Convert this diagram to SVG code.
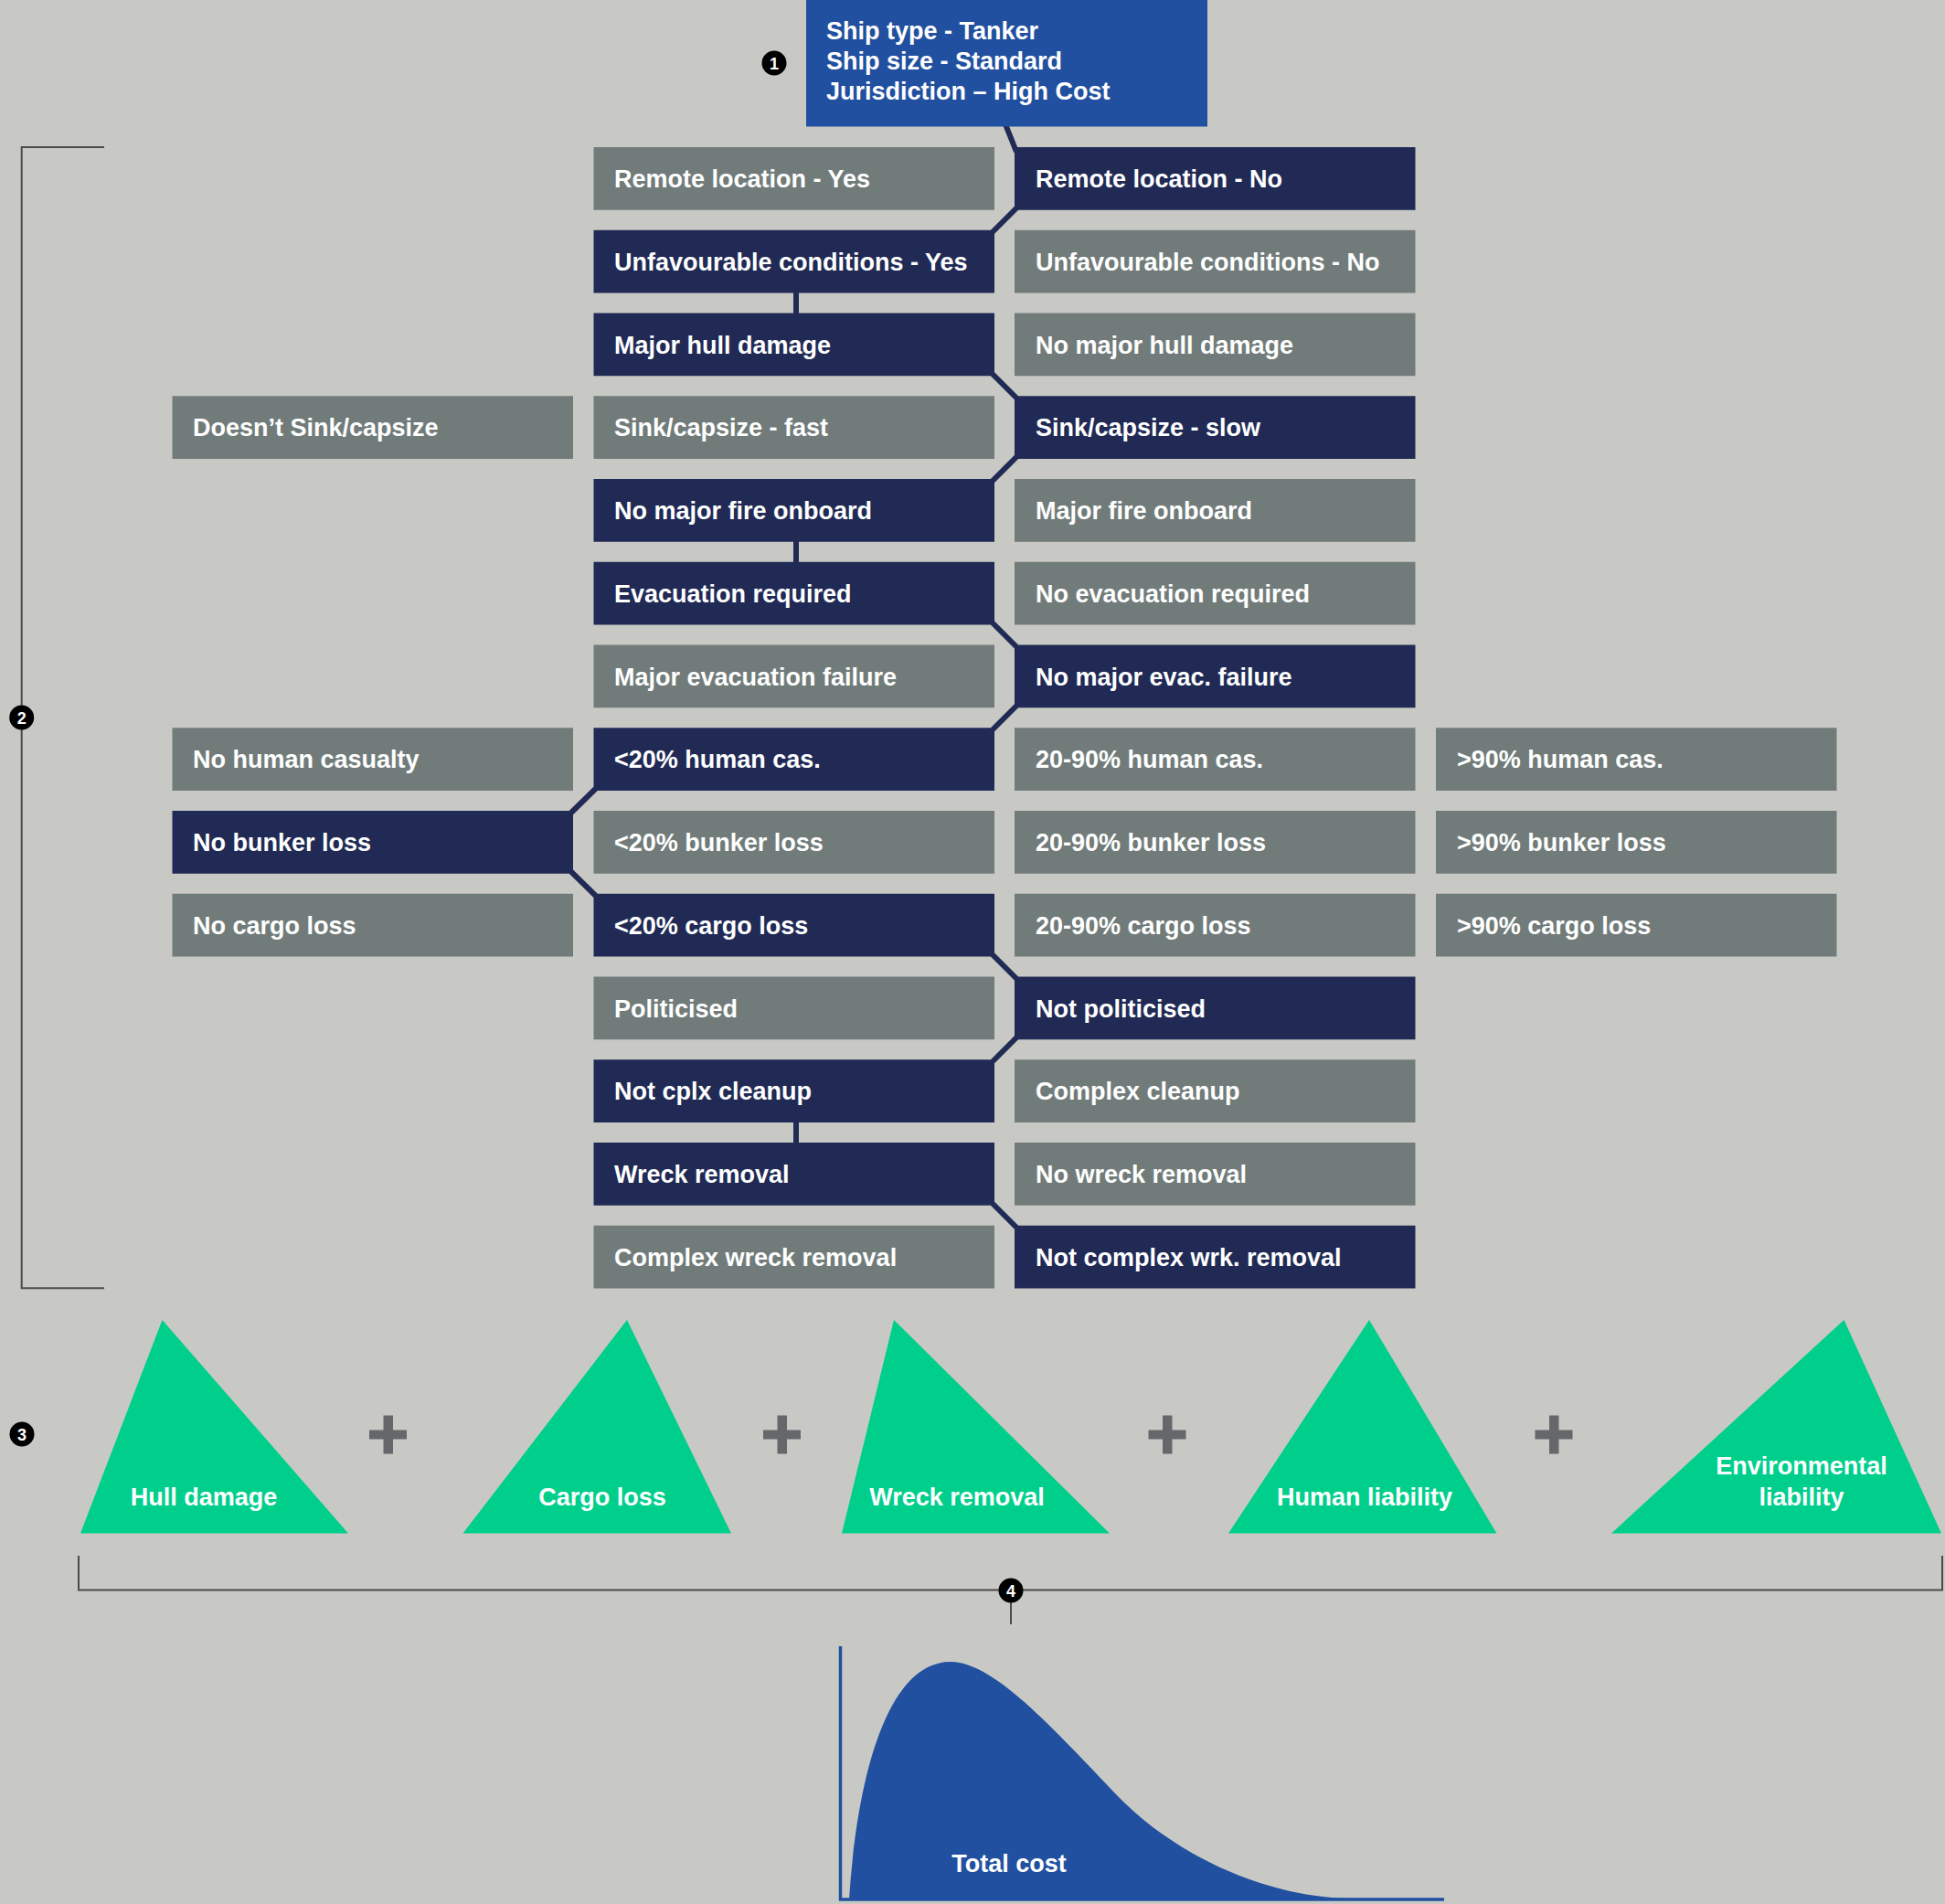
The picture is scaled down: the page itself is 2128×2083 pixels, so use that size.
<svg xmlns="http://www.w3.org/2000/svg" width="2128" height="2083" viewBox="0 0 2128 2083">
<style>
.t{font-family:"Liberation Sans",Arial,sans-serif;font-weight:bold;font-size:27px;fill:#ffffff}
.g{fill:#717c7a}
.n{fill:#202a55}
.tc{text-anchor:middle}
.cn{stroke:#202a55;stroke-width:6;fill:none}
.br{stroke:#4a4c4a;stroke-width:2;fill:none}
.tri{fill:#00cf8c}
.plus{fill:#66676b}
.mk{fill:#000}
.mt{font-family:"Liberation Sans",Arial,sans-serif;font-weight:bold;font-size:18px;fill:#fff;text-anchor:middle}
</style>
<rect x="0" y="0" width="2128" height="2083" fill="#c8c9c4"/>

<g id="connectors">
<line class="cn" x1="1100" y1="136" x2="1112" y2="166"/>
<line class="cn" x1="1112" y1="227.75" x2="1086" y2="253.75"/>
<line class="cn" x1="871" y1="318.5" x2="871" y2="344.5"/>
<line class="cn" x1="1086" y1="409.25" x2="1112" y2="435.25"/>
<line class="cn" x1="1112" y1="500" x2="1086" y2="526"/>
<line class="cn" x1="871" y1="590.75" x2="871" y2="616.75"/>
<line class="cn" x1="1086" y1="681.5" x2="1112" y2="707.5"/>
<line class="cn" x1="1112" y1="772.25" x2="1086" y2="798.25"/>
<line class="cn" x1="651.5" y1="863" x2="625" y2="889"/>
<line class="cn" x1="625" y1="953.75" x2="651.5" y2="979.75"/>
<line class="cn" x1="1086" y1="1044.5" x2="1112" y2="1070.5"/>
<line class="cn" x1="1112" y1="1135.25" x2="1086" y2="1161.25"/>
<line class="cn" x1="871" y1="1226" x2="871" y2="1252"/>
<line class="cn" x1="1086" y1="1316.75" x2="1112" y2="1342.75"/>
</g>

<g id="n-top">
<rect x="882" y="0" width="439" height="138.5" fill="#2150a0"/>
<text class="t" x="904" y="43">Ship type - Tanker</text>
<text class="t" x="904" y="76">Ship size - Standard</text>
<text class="t" x="904" y="109">Jurisdiction – High Cost</text>
</g>

<g id="n-remote-yes"><rect class="g" x="649.5" y="161" width="438.5" height="68.75"/><text class="t" x="672" y="205">Remote location - Yes</text></g>
<g id="n-remote-no"><rect class="n" x="1110" y="161" width="438.5" height="68.75"/><text class="t" x="1133" y="205">Remote location - No</text></g>

<g id="n-unfav-yes"><rect class="n" x="649.5" y="251.75" width="438.5" height="68.75"/><text class="t" x="672" y="295.75">Unfavourable conditions - Yes</text></g>
<g id="n-unfav-no"><rect class="g" x="1110" y="251.75" width="438.5" height="68.75"/><text class="t" x="1133" y="295.75">Unfavourable conditions - No</text></g>

<g id="n-hull-yes"><rect class="n" x="649.5" y="342.5" width="438.5" height="68.75"/><text class="t" x="672" y="386.5">Major hull damage</text></g>
<g id="n-hull-no"><rect class="g" x="1110" y="342.5" width="438.5" height="68.75"/><text class="t" x="1133" y="386.5">No major hull damage</text></g>

<g id="n-nosink"><rect class="g" x="188.5" y="433.25" width="438.5" height="68.75"/><text class="t" x="211" y="477.25">Doesn’t Sink/capsize</text></g>
<g id="n-sink-fast"><rect class="g" x="649.5" y="433.25" width="438.5" height="68.75"/><text class="t" x="672" y="477.25">Sink/capsize - fast</text></g>
<g id="n-sink-slow"><rect class="n" x="1110" y="433.25" width="438.5" height="68.75"/><text class="t" x="1133" y="477.25">Sink/capsize - slow</text></g>

<g id="n-nofire"><rect class="n" x="649.5" y="524" width="438.5" height="68.75"/><text class="t" x="672" y="568">No major fire onboard</text></g>
<g id="n-fire"><rect class="g" x="1110" y="524" width="438.5" height="68.75"/><text class="t" x="1133" y="568">Major fire onboard</text></g>

<g id="n-evac"><rect class="n" x="649.5" y="614.75" width="438.5" height="68.75"/><text class="t" x="672" y="658.75">Evacuation required</text></g>
<g id="n-noevac"><rect class="g" x="1110" y="614.75" width="438.5" height="68.75"/><text class="t" x="1133" y="658.75">No evacuation required</text></g>

<g id="n-evacfail"><rect class="g" x="649.5" y="705.5" width="438.5" height="68.75"/><text class="t" x="672" y="749.5">Major evacuation failure</text></g>
<g id="n-noevacfail"><rect class="n" x="1110" y="705.5" width="438.5" height="68.75"/><text class="t" x="1133" y="749.5">No major evac. failure</text></g>

<g id="n-hum0"><rect class="g" x="188.5" y="796.25" width="438.5" height="68.75"/><text class="t" x="211" y="840.25">No human casualty</text></g>
<g id="n-hum20"><rect class="n" x="649.5" y="796.25" width="438.5" height="68.75"/><text class="t" x="672" y="840.25">&lt;20% human cas.</text></g>
<g id="n-hum90"><rect class="g" x="1110" y="796.25" width="438.5" height="68.75"/><text class="t" x="1133" y="840.25">20-90% human cas.</text></g>
<g id="n-hum100"><rect class="g" x="1571" y="796.25" width="438.5" height="68.75"/><text class="t" x="1594" y="840.25">&gt;90% human cas.</text></g>

<g id="n-bunk0"><rect class="n" x="188.5" y="887" width="438.5" height="68.75"/><text class="t" x="211" y="931">No bunker loss</text></g>
<g id="n-bunk20"><rect class="g" x="649.5" y="887" width="438.5" height="68.75"/><text class="t" x="672" y="931">&lt;20% bunker loss</text></g>
<g id="n-bunk90"><rect class="g" x="1110" y="887" width="438.5" height="68.75"/><text class="t" x="1133" y="931">20-90% bunker loss</text></g>
<g id="n-bunk100"><rect class="g" x="1571" y="887" width="438.5" height="68.75"/><text class="t" x="1594" y="931">&gt;90% bunker loss</text></g>

<g id="n-cargo0"><rect class="g" x="188.5" y="977.75" width="438.5" height="68.75"/><text class="t" x="211" y="1021.75">No cargo loss</text></g>
<g id="n-cargo20"><rect class="n" x="649.5" y="977.75" width="438.5" height="68.75"/><text class="t" x="672" y="1021.75">&lt;20% cargo loss</text></g>
<g id="n-cargo90"><rect class="g" x="1110" y="977.75" width="438.5" height="68.75"/><text class="t" x="1133" y="1021.75">20-90% cargo loss</text></g>
<g id="n-cargo100"><rect class="g" x="1571" y="977.75" width="438.5" height="68.75"/><text class="t" x="1594" y="1021.75">&gt;90% cargo loss</text></g>

<g id="n-pol"><rect class="g" x="649.5" y="1068.5" width="438.5" height="68.75"/><text class="t" x="672" y="1112.5">Politicised</text></g>
<g id="n-notpol"><rect class="n" x="1110" y="1068.5" width="438.5" height="68.75"/><text class="t" x="1133" y="1112.5">Not politicised</text></g>

<g id="n-notcplx"><rect class="n" x="649.5" y="1159.25" width="438.5" height="68.75"/><text class="t" x="672" y="1203.25">Not cplx cleanup</text></g>
<g id="n-cplx"><rect class="g" x="1110" y="1159.25" width="438.5" height="68.75"/><text class="t" x="1133" y="1203.25">Complex cleanup</text></g>

<g id="n-wreck"><rect class="n" x="649.5" y="1250" width="438.5" height="68.75"/><text class="t" x="672" y="1294">Wreck removal</text></g>
<g id="n-nowreck"><rect class="g" x="1110" y="1250" width="438.5" height="68.75"/><text class="t" x="1133" y="1294">No wreck removal</text></g>

<g id="n-cplxwreck"><rect class="g" x="649.5" y="1340.75" width="438.5" height="68.75"/><text class="t" x="672" y="1384.75">Complex wreck removal</text></g>
<g id="n-notcplxwreck"><rect class="n" x="1110" y="1340.75" width="438.5" height="68.75"/><text class="t" x="1133" y="1384.75">Not complex wrk. removal</text></g>

<path class="br" d="M114,161 H23.7 V1409.3 H114"/>

<g id="t-hull"><polygon class="tri" points="177.5,1444 88,1677.5 381,1677.5"/><text class="t tc" x="223" y="1647">Hull damage</text></g>
<g id="t-cargo"><polygon class="tri" points="686,1444 506.5,1677.5 800,1677.5"/><text class="t tc" x="659" y="1647">Cargo loss</text></g>
<g id="t-wreck"><polygon class="tri" points="978,1444 921,1677.5 1214,1677.5"/><text class="t tc" x="1047" y="1647">Wreck removal</text></g>
<g id="t-human"><polygon class="tri" points="1498,1444 1344,1677.5 1637.5,1677.5"/><text class="t tc" x="1493" y="1647">Human liability</text></g>
<g id="t-env"><polygon class="tri" points="2017.5,1444 1763,1677.5 2124,1677.5"/><text class="t tc" x="1971" y="1613">Environmental</text><text class="t tc" x="1971" y="1647">liability</text></g>

<g id="plus">
<rect class="plus" x="419.5" y="1548.5" width="10.5" height="42"/><rect class="plus" x="404" y="1564.5" width="41" height="10"/>
<rect class="plus" x="850.5" y="1548.5" width="10.5" height="42"/><rect class="plus" x="835" y="1564.5" width="41" height="10"/>
<rect class="plus" x="1272" y="1548.5" width="10.5" height="42"/><rect class="plus" x="1256.5" y="1564.5" width="41" height="10"/>
<rect class="plus" x="1695" y="1548.5" width="10.5" height="42"/><rect class="plus" x="1679.5" y="1564.5" width="41" height="10"/>
</g>

<path class="br" d="M86,1702 V1739.5 H2125 V1702"/>
<line class="br" x1="1106" y1="1740" x2="1106" y2="1777"/>

<g id="total-cost">
<path d="M929,2078 C938,1940 972,1818 1040,1818 C1090,1818 1160,1900 1230,1972 C1300,2040 1400,2077 1480,2077 L1480,2078 Z" fill="#2150a0"/>
<path d="M919.5,1801 V2078 H1580" stroke="#2150a0" stroke-width="3.5" fill="none"/>
<text class="t tc" x="1104" y="2048">Total cost</text>
</g>

<g id="markers">
<circle class="mk" cx="847" cy="69" r="13.5"/><text class="mt" x="847" y="75.5">1</text>
<circle class="mk" cx="23.7" cy="785" r="13.5"/><text class="mt" x="23.7" y="791.5">2</text>
<circle class="mk" cx="24" cy="1569" r="13.5"/><text class="mt" x="24" y="1575.5">3</text>
<circle class="mk" cx="1106" cy="1740" r="13.5"/><text class="mt" x="1106" y="1746.5">4</text>
</g>
</svg>
